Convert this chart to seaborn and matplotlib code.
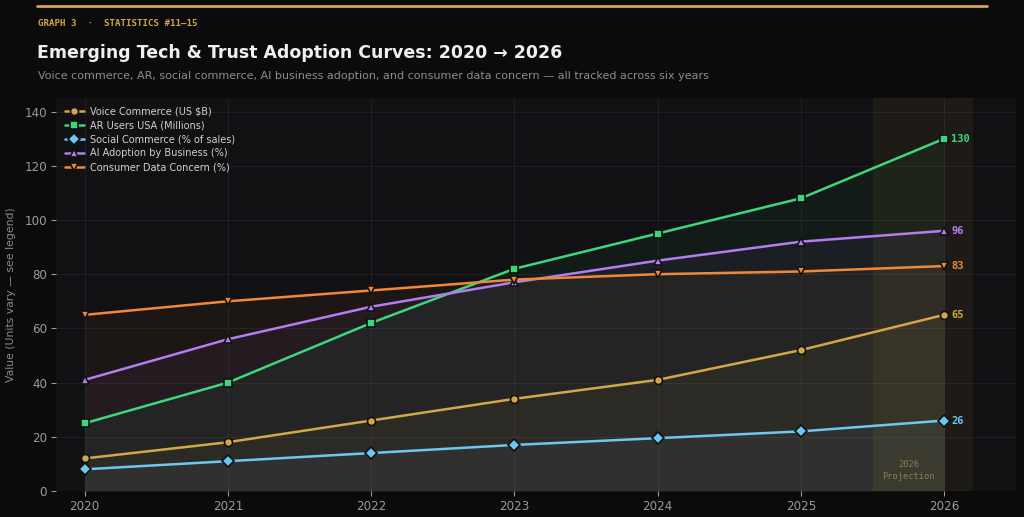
#!/usr/bin/env python3
# plot: emerging tech & trust adoption curves

import matplotlib
matplotlib.use('Agg')
import matplotlib.pyplot as plt
import pandas as pd
import seaborn as sns

# Data =========================================================================

years = [2020, 2021, 2022, 2023, 2024, 2025, 2026]
voice_commerce = [12, 18, 26, 34, 41, 52, 65]
ar_users = [25, 40, 62, 82, 95, 108, 130]
social_commerce = [8, 11, 14, 17, 19.5, 22, 26]
ai_adoption = [41, 56, 68, 77, 85, 92, 96]
data_concern = [65, 70, 74, 78, 80, 81, 83]

series_names = [
    'Voice Commerce (US $B)',
    'AR Users USA (Millions)',
    'Social Commerce (% of sales)',
    'AI Adoption by Business (%)',
    'Consumer Data Concern (%)',
]

# Main =========================================================================

def main():
    sns.set_theme(style='dark')
    plt.rcParams['font.family'] = ['DejaVu Sans']

    bg = '#0b0b0b'
    ax_bg = '#111113'
    colors = ['#d4a64a', '#3dd67c', '#6cc8f0', '#b47cf0', '#f0883a']
    markers = ['o', 's', 'D', '^', 'v']
    values = [voice_commerce, ar_users, social_commerce, ai_adoption, data_concern]

    fig = plt.figure(figsize=(10.24, 5.17), dpi=100, facecolor=bg)
    ax = fig.add_axes([0.0547, 0.0503, 0.9373, 0.7601])
    ax.set_facecolor(ax_bg)

    ax.axvspan(2025.5, 2026.2, color='#d4a64a', alpha=0.07, lw=0, zorder=1)
    ax.text(2025.75, 7.5, '2026\nProjection', ha='center', va='center',
            color='#8a7440', fontsize=6.3, family='DejaVu Sans Mono',
            linespacing=1.5, zorder=2)

    for name, vals, c, m in zip(series_names, values, colors, markers):
        df = pd.DataFrame({'Year': years, 'Value': vals})
        ax.fill_between(years, vals, 0, color=c, alpha=0.05, lw=0, zorder=2)
        sns.lineplot(
            data=df, x='Year', y='Value', ax=ax, color=c, lw=1.8,
            marker=m, markersize=5.8, markeredgecolor='#111111',
            markeredgewidth=1.2, label=name, zorder=4
        )
        ax.text(years[-1] + 0.05, vals[-1], f'{vals[-1]:g}', color=c,
                fontsize=7.5, fontweight='bold', family='DejaVu Sans Mono',
                va='center', ha='left', zorder=5)

    ax.set_xlim(2019.8, 2026.5)
    ax.set_ylim(0, 145)
    ax.set_xticks(years)
    ax.set_yticks(range(0, 141, 20))
    ax.grid(True, color='#22222a', lw=0.7, alpha=0.8)
    ax.set_axisbelow(True)
    for s in ax.spines.values():
        s.set_visible(False)
    ax.tick_params(colors='#9a9a9a', labelsize=8.6, length=3.5, width=0.8,
                   bottom=True, left=True, pad=3)
    ax.set_xlabel('')
    ax.set_ylabel('Value (Units vary — see legend)', color='#8a8a8a',
                  fontsize=7.8, labelpad=6)

    leg = ax.legend(loc='upper left', frameon=False, fontsize=7,
                    handlelength=2.0, labelspacing=0.4,
                    borderaxespad=0.5, handletextpad=0.6)
    for t in leg.get_texts():
        t.set_color('#d0d0d0')

    fig.add_artist(plt.Line2D([0.036, 0.964], [0.988, 0.988],
                              color='#d4a64a', lw=2, transform=fig.transFigure))
    fig.text(0.037, 0.955, 'GRAPH 3  ·  STATISTICS #11–15', color='#d4a64a',
             fontsize=6.6, fontweight='bold', family='DejaVu Sans Mono',
             va='center')
    fig.text(0.036, 0.897, 'Emerging Tech & Trust Adoption Curves: 2020 → 2026',
             color='#f0f0f0', fontsize=12.5, fontweight='bold', va='center')
    fig.text(0.037, 0.853,
             'Voice commerce, AR, social commerce, AI business adoption, and '
             'consumer data concern — all tracked across six years',
             color='#8c8c8c', fontsize=8, va='center')

    fig.savefig('out.png', dpi=100, facecolor=bg)


if __name__ == '__main__':
    main()
